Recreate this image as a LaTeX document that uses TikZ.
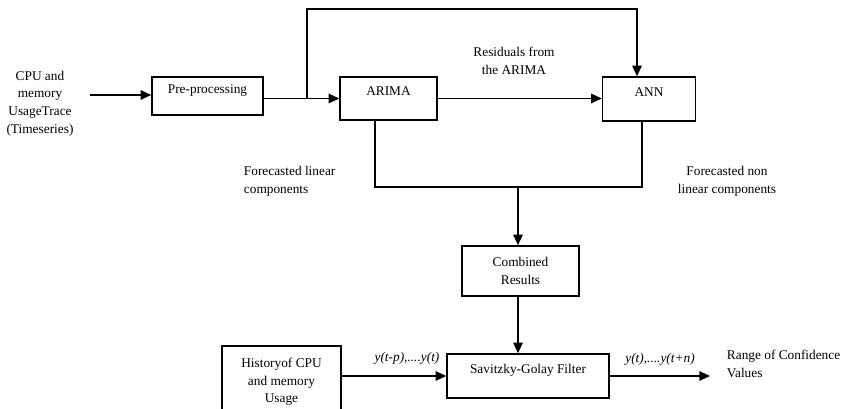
\documentclass[tikz,border=0pt]{standalone}
\usepackage{fontspec}
\setmainfont{Liberation Serif}
\usetikzlibrary{arrows.meta}
\begin{document}
\begin{tikzpicture}[x=0.75pt,y=-0.75pt,
  font=\fontsize{10}{13.3}\selectfont,
  line width=1.4pt,
  arr/.style={-{Triangle[length=8pt,width=7pt]}},
  blk/.style={draw,line width=1.05pt,inner sep=2pt,align=center},
  txt/.style={align=center,inner sep=0pt}]
\useasboundingbox (0,0) rectangle (841,409);
\clip (0,0) rectangle (841,409);

% processing blocks (text depth lifts the single-line captions toward the top)
\node[blk,minimum width=111*0.75pt,minimum height=38*0.75pt,text depth=10pt] (pre) at (207.5,96) {Pre-processing};
\node[blk,minimum width=97*0.75pt,minimum height=43*0.75pt,text depth=10.5pt] (arima) at (388.5,98.5) {ARIMA};
\node[blk,minimum width=93*0.75pt,minimum height=44*0.75pt,text depth=11pt] (ann) at (649,99) {ANN};
\node[blk,minimum width=117*0.75pt,minimum height=50*0.75pt] (comb) at (520.5,271) {Combined\\Results};
\node[blk,minimum width=162*0.75pt,minimum height=44*0.75pt,text depth=10pt] (sg) at (528,376) {Savitzky-Golay Filter};
\node[txt,minimum width=117*0.75pt,minimum height=70*0.75pt] (hist) at (281.5,382) {Historyof CPU\\and memory\\Usage};
\draw[line width=1.05pt] (hist.south west) |- (hist.north east) -- (hist.south east);

% free labels
\node[txt] (cpu) at (40,103.5) {CPU and\\memory\\UsageTrace\\(Timeseries)};
\node[txt] (resid) at (514,61) {Residuals from\\the ARIMA};
\node[txt,anchor=west,align=left] (flin) at (243,181) {Forecasted linear\\components};
\node[txt] (fnon) at (727,181) {Forecasted non\\linear components};
\node[txt] (yin) at (407,358) {\itshape y(t-p),....y(t)};
\node[txt] (yout) at (660,359) {\itshape y(t),....y(t+n)};
\node[txt,anchor=west,align=left] (range) at (726,364) {Range of Confidence\\Values};

% junction points
\coordinate (inp) at (90,95);
\coordinate (br) at (307,98.5);
\coordinate (topr) at (637,9);
\coordinate (join) at (518,187);
\coordinate (out) at (710,376);

% connectors
\draw[arr] (inp) -- (pre.west |- inp);
\draw[arr] (pre.east |- arima.west) -- (arima.west);
\draw[arr] (br) |- (topr) -- (topr |- ann.north);
\draw[arr] (arima.east) -- (ann.west |- arima.east);
\draw ([xshift=-13.5*0.75pt]arima.south) |- (join);
\draw ([xshift=-7*0.75pt]ann.south) |- (join);
\draw[arr] (join) -- (join |- comb.north);
\draw[arr] (comb.south -| join) -- (join |- sg.north);
\draw[arr] (hist.east |- sg.west) -- (sg.west);
\draw[arr] (sg.east) -- (out);
\end{tikzpicture}
\end{document}
